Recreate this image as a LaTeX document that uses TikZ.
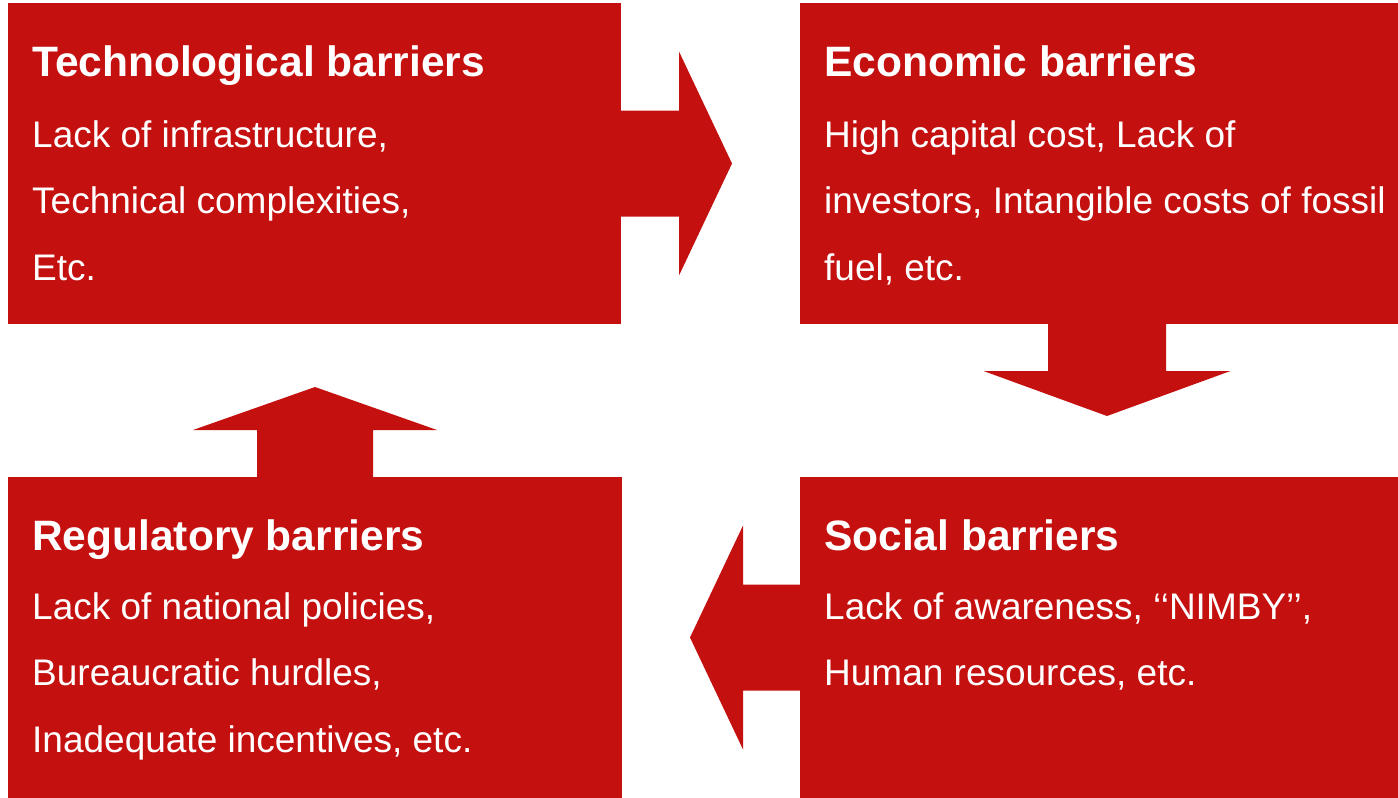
\documentclass[tikz,border=0pt]{standalone}
\usepackage{fontspec}
\setmainfont{Liberation Sans}
\usetikzlibrary{positioning, calc}
\definecolor{barrierred}{RGB}{197,16,16}
\tikzset{barrier/.style = {fill=barrierred, draw=none, inner sep=0pt, outer sep=0pt, anchor=north west, minimum height=#1},
	barrier title/.style = {text=white, anchor=base west, inner sep=0pt, font=\fontsize{42.5}{50}\selectfont\bfseries},
	barrier body/.style = {text=white, anchor=base west, inner sep=0pt, align=left, font=\fontsize{37}{66.5}\selectfont},
	flow arrow/.style = {fill=barrierred, draw=none}}

\begin{document}
\begin{tikzpicture}[x=1pt, y=-1pt]
	\useasboundingbox (0,0) rectangle (1398,798);
	
	\node[barrier=321pt, minimum width=613pt]	(tech) at (8,3) {};
	\node[barrier=321pt, minimum width=598pt]	(econ) at (800,3) {};
	\node[barrier=321pt, minimum width=614pt]	(reg) at (8,477) {};
	\node[barrier=321pt, minimum width=598pt]	(soc) at (800,477) {};
	
	% body nodes sit on the baseline of their last line
	\node[barrier title]	(techT) at ($(tech.north west)+(24,73)$) {Technological barriers};
	\node[barrier body]	(techB) at ($(tech.north west)+(24,277)$) {Lack of infrastructure,\\Technical complexities,\\Etc.};
	\node[barrier title]	(econT) at ($(econ.north west)+(24,73)$) {Economic barriers};
	\node[barrier body]	(econB) at ($(econ.north west)+(24,277)$) {High capital cost, Lack of\\investors, Intangible costs of fossil\\fuel, etc.};
	\node[barrier title]	(regT) at ($(reg.north west)+(24,73)$) {Regulatory barriers};
	\node[barrier body]	(regB) at ($(reg.north west)+(24,275)$) {Lack of national policies,\\Bureaucratic hurdles,\\Inadequate incentives, etc.};
	\node[barrier title]	(socT) at ($(soc.north west)+(24,73)$) {Social barriers};
	\node[barrier body]	(socB) at ($(soc.north west)+(24,208.5)$) {Lack of awareness, \textquoteleft\textquoteleft NIMBY\textquoteright\textquoteright,\\Human resources, etc.};
	
	% tech -> econ
	\coordinate (r) at (tech.east);
	\fill[flow arrow]	($(r)+(0,-53)$) -- ++(58,0) -- ++(0,-59) -- ($(r)+(111,0)$) -- ($(r)+(58,112)$) -- ++(0,-59) -- ++(-58,0) -- cycle;
	% econ -> soc
	\coordinate (d) at ($(econ.south)+(8,0)$);
	\fill[flow arrow]	($(d)+(-59,0)$) -- ++(0,47) -- ++(-64.5,0) -- ($(d)+(0,92)$) -- ($(d)+(123.5,47)$) -- ++(-64.5,0) -- ++(0,-47) -- cycle;
	% soc -> reg
	\coordinate (l) at (soc.west);
	\fill[flow arrow]	($(l)+(0,-53)$) -- ++(-57,0) -- ++(0,-59) -- ($(l)+(-110,0)$) -- ($(l)+(-57,112)$) -- ++(0,-59) -- ++(57,0) -- cycle;
	% reg -> tech
	\coordinate (u) at (reg.north);
	\fill[flow arrow]	($(u)+(-58,0)$) -- ++(0,-47) -- ++(-64,0) -- ($(u)+(0,-90)$) -- ($(u)+(122,-47)$) -- ++(-64,0) -- ++(0,47) -- cycle;
\end{tikzpicture}
\end{document}
